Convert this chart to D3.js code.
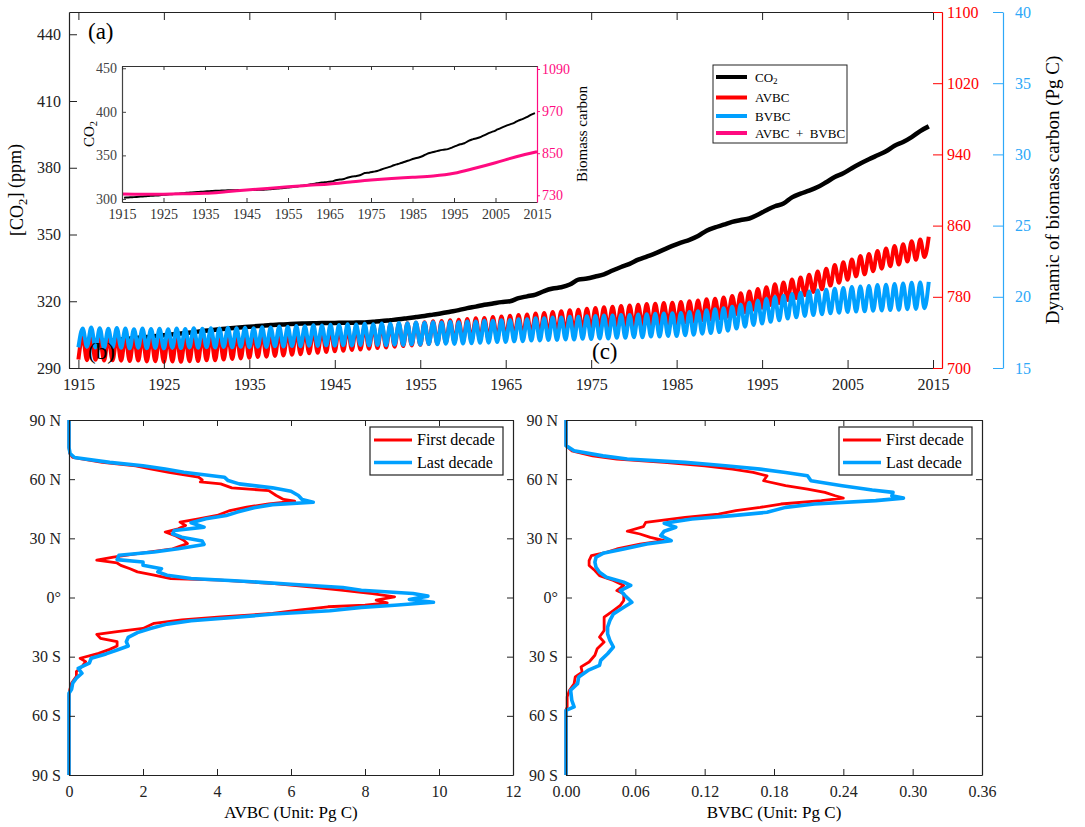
<!DOCTYPE html>
<html>
<head>
<meta charset="utf-8">
<title>CO2 and vegetation biomass carbon</title>
<script src="https://cdn.jsdelivr.net/npm/d3@7"></script>
<style>
  body { margin: 0; background: #fff; }
  svg text { font-family: 'Liberation Serif', 'DejaVu Serif', 'Times New Roman', serif; }
</style>
</head>
<body>
<svg id="fig" width="1085" height="827"></svg>
<script>
// ---------- panel (a) data, one value per year 1915..2014 ----------
const years = d3.range(1915, 2015);
const yearTicks = [1915, 1925, 1935, 1945, 1955, 1965, 1975, 1985, 1995, 2005, 2015];
const co2Ticks = [290, 320, 350, 380, 410, 440];
const avbcTicks = [700, 780, 860, 940, 1020, 1100];
const bvbcTicks = [15, 20, 25, 30, 35, 40];

const co2 = [
  301.4, 301.7, 302.0, 302.3, 302.7, 303.0, 303.4, 303.8, 304.1, 304.5,
  304.9, 305.3, 305.7, 306.1, 306.6, 307.0, 307.4, 307.8, 308.1, 308.4,
  308.7, 309.0, 309.3, 309.5, 309.7, 309.9, 310.0, 310.1, 310.2, 310.2,
  310.3, 310.3, 310.4, 310.5, 310.8, 311.1, 311.5, 311.9, 312.4, 312.9,
  313.4, 314.0, 314.6, 315.3, 316.0, 316.9, 317.6, 318.4, 319.0, 319.6,
  320.0, 321.4, 322.2, 323.0, 324.6, 325.7, 326.3, 327.5, 329.7, 330.2,
  331.1, 332.1, 333.8, 335.4, 336.8, 338.7, 340.1, 341.5, 343.2, 344.9,
  346.4, 347.6, 349.3, 351.7, 353.2, 354.4, 355.7, 356.5, 357.2, 358.9,
  360.9, 362.7, 363.9, 366.7, 368.4, 369.7, 371.3, 373.5, 375.8, 377.5,
  379.8, 381.9, 383.8, 385.6, 387.4, 389.9, 391.6, 393.8, 396.5, 398.6
];

// AVBC seasonal cycle: yearly high and low (Pg C)
const avbcPeak = [
  735.5, 735.0, 735.6, 734.8, 735.2, 735.0, 734.6, 735.1, 734.4, 734.9,
  734.2, 734.8, 734.5, 735.3, 735.6, 736.2, 736.0, 736.9, 737.4, 737.9,
  738.5, 739.2, 739.6, 740.3, 740.8, 741.5, 742.0, 742.9, 743.4, 744.3,
  745.0, 745.4, 746.3, 746.8, 747.6, 748.2, 748.7, 749.6, 750.2, 750.9,
  751.5, 752.4, 752.8, 753.7, 754.3, 755.0, 755.9, 756.3, 757.2, 757.8,
  758.6, 759.5, 760.1, 761.2, 761.9, 763.0, 763.8, 764.9, 765.5, 766.7,
  767.4, 768.3, 768.8, 769.7, 770.2, 771.0, 771.8, 772.1, 773.0, 773.3,
  774.2, 775.1, 775.8, 777.2, 777.9, 779.3, 781.0, 784.1, 786.0, 788.9,
  790.8, 794.0, 796.1, 799.5, 801.6, 804.8, 808.5, 811.4, 815.6, 818.7,
  822.0, 825.8, 828.0, 831.6, 834.4, 837.2, 839.1, 842.4, 844.3, 847.5
];
const avbcTrough = [
  709.5, 708.8, 709.2, 708.4, 708.6, 708.1, 707.8, 708.3, 707.4, 707.6,
  706.8, 707.3, 706.9, 707.6, 707.9, 708.6, 708.7, 709.5, 710.1, 710.8,
  711.4, 712.3, 712.7, 713.6, 714.1, 714.9, 715.5, 716.5, 717.0, 718.0,
  718.8, 719.3, 720.3, 720.8, 721.7, 722.4, 723.0, 723.9, 724.6, 725.3,
  726.0, 727.0, 727.4, 728.4, 729.0, 729.8, 730.7, 731.2, 732.1, 732.8,
  733.7, 734.6, 735.3, 736.4, 737.2, 738.3, 739.2, 740.3, 741.0, 742.2,
  743.0, 743.9, 744.5, 745.4, 746.0, 746.8, 747.7, 748.1, 749.0, 749.4,
  750.4, 751.4, 752.1, 753.6, 754.4, 755.8, 757.6, 760.7, 762.7, 765.6,
  767.6, 770.8, 773.0, 776.4, 778.6, 781.8, 785.5, 788.4, 792.6, 795.8,
  799.2, 803.0, 805.2, 808.8, 811.6, 814.4, 816.3, 819.6, 821.5, 824.6
];

// BVBC seasonal cycle: yearly high and low (Pg C)
const bvbcPeak = [
  17.78, 17.84, 17.80, 17.76, 17.81, 17.77, 17.73, 17.78, 17.74, 17.76,
  17.72, 17.77, 17.74, 17.79, 17.76, 17.80, 17.77, 17.82, 17.79, 17.83,
  17.80, 17.86, 17.84, 17.91, 17.90, 17.95, 17.94, 18.00, 17.98, 18.04,
  18.02, 18.07, 18.05, 18.10, 18.08, 18.12, 18.11, 18.16, 18.14, 18.19,
  18.17, 18.21, 18.19, 18.24, 18.22, 18.26, 18.27, 18.31, 18.32, 18.36,
  18.37, 18.42, 18.43, 18.49, 18.50, 18.55, 18.55, 18.60, 18.60, 18.64,
  18.65, 18.69, 18.68, 18.73, 18.72, 18.76, 18.77, 18.81, 18.82, 18.85,
  18.86, 18.93, 18.98, 19.06, 19.12, 19.20, 19.30, 19.45, 19.58, 19.73,
  19.85, 19.98, 20.07, 20.19, 20.28, 20.38, 20.44, 20.50, 20.57, 20.62,
  20.68, 20.73, 20.76, 20.82, 20.85, 20.90, 20.93, 20.98, 21.00, 21.05
];
const bvbcTrough = [
  16.45, 16.50, 16.44, 16.41, 16.46, 16.42, 16.38, 16.43, 16.39, 16.41,
  16.38, 16.43, 16.40, 16.45, 16.42, 16.46, 16.44, 16.48, 16.45, 16.49,
  16.46, 16.50, 16.48, 16.53, 16.51, 16.54, 16.53, 16.57, 16.55, 16.59,
  16.57, 16.60, 16.58, 16.62, 16.59, 16.61, 16.60, 16.64, 16.62, 16.66,
  16.64, 16.68, 16.66, 16.71, 16.69, 16.72, 16.73, 16.77, 16.78, 16.82,
  16.83, 16.87, 16.88, 16.93, 16.93, 16.97, 16.97, 17.01, 17.01, 17.05,
  17.04, 17.08, 17.07, 17.12, 17.12, 17.16, 17.16, 17.21, 17.21, 17.25,
  17.25, 17.30, 17.34, 17.41, 17.45, 17.52, 17.62, 17.77, 17.90, 18.02,
  18.12, 18.25, 18.35, 18.47, 18.56, 18.66, 18.72, 18.78, 18.84, 18.88,
  18.93, 18.96, 18.98, 19.02, 19.04, 19.07, 19.09, 19.13, 19.15, 19.20
];

// inset: AVBC + BVBC every 5 years
const insetYears = [1915, 1920, 1925, 1930, 1935, 1940, 1945, 1950, 1955, 1960, 1965,
                    1970, 1975, 1980, 1985, 1990, 1995, 2000, 2005, 2010, 2015];
const totalBC = [733.7, 733.0, 733.2, 734.2, 735.7, 740.0, 745.0, 749.5, 754.5, 758.5, 762.2,
                 768.0, 773.6, 778.0, 781.3, 785.0, 792.7, 807.0, 822.9, 840.0, 854.3];
const insetCo2Ticks = [300, 350, 400, 450];
const insetBCTicks = [730, 850, 970, 1090];

// ---------- panels (b) and (c): latitudinal profiles ----------
const latTicks = [-90, -60, -30, 0, 30, 60, 90];
const avbcTicksX = [0, 2, 4, 6, 8, 10, 12];
const bvbcTicksX = [0, 0.06, 0.12, 0.18, 0.24, 0.30, 0.36];

const latAvbcFirst = [90, 76, 73, 71, 68.5, 66.8, 65.2, 63.5, 61, 59.6, 58.6, 57.6, 55.6, 54.2, 51.7, 49.7, 48.8, 47.5, 45.8, 44.1,
  41.6, 39.9, 38.2, 36.5, 34.8, 33.2, 31.5, 29, 27.3, 24.7, 22.2, 20.5, 18.9, 17.5, 16.3, 14.6, 13, 11.3, 9.6, 8.8,
  7.1, 5.4, 3.7, 2, 0.3, -1.3, -2.7, -3.9, -4.7, -6.4, -8.1, -9.8, -11.4, -13.1, -15.7, -17.3, -18.7, -20.7, -22.4, -24.6,
  -26.3, -28.3, -30.8, -32.5, -35, -37.5, -40, -43.4, -46.8, -50, -90];
const avbcFirst = [0, 0, 0.02, 0.1, 0.9, 1.8, 2.2, 2.7, 3.5, 3.6, 3.55, 4.1, 4.4, 5.4, 5.6, 5.8, 6.1, 5.4, 4.8, 4.35,
  4.0, 3.5, 3.0, 3.15, 2.95, 2.6, 2.85, 3.1, 3.2, 2.8, 1.85, 1.2, 0.75, 1.3, 1.4, 1.65, 1.85, 2.3, 2.75, 4.1,
  5.55, 6.5, 7.35, 8.2, 8.8, 8.3, 8.6, 8.0, 7.0, 6.2, 5.5, 4.1, 3.05, 2.3, 2.0, 1.3, 0.75, 0.85, 1.3, 1.3,
  1.1, 0.8, 0.3, 0.45, 0.35, 0.2, 0.2, 0.07, 0.02, 0, 0];

const latAvbcLast = [90, 76, 73, 71, 68.5, 66.8, 65.2, 63.5, 61, 59.3, 57.6, 55.6, 53.9, 51.7, 49.7, 48.3, 47.1, 45.5, 43.3, 41.6,
  39.9, 37.9, 35.7, 34, 32.3, 30.6, 28.6, 26.9, 24.7, 23.1, 21.4, 19.2, 18, 16.3, 14.6, 13, 11.3, 9.6, 8.4, 6.7,
  5.1, 3.7, 2, 0.7, -1, -2.4, -3.9, -5, -6.7, -8.4, -10.1, -11.8, -13.5, -15.7, -17.8, -20.2, -22.4, -24.6, -26.6, -28.6,
  -30.8, -33.3, -35.9, -38.4, -40.9, -43.4, -46.5, -48.5, -90];
const avbcLast = [0, 0, 0.03, 0.15, 1.1, 2.0, 2.6, 3.1, 4.2, 4.3, 4.6, 5.5, 6.0, 6.2, 6.3, 6.6, 5.5, 5.0, 4.55, 4.25,
  3.7, 3.3, 3.65, 2.85, 2.8, 3.05, 3.6, 3.65, 2.95, 2.3, 1.35, 1.3, 2.0, 2.0, 2.5, 2.4, 2.65, 3.3, 4.6, 6.0,
  7.4, 7.9, 9.3, 9.7, 9.2, 9.85, 8.8, 7.9, 7.05, 5.55, 4.45, 3.3, 2.65, 2.2, 1.85, 1.6, 1.55, 1.6, 1.3, 1.0,
  0.6, 0.55, 0.25, 0.35, 0.2, 0.1, 0.07, 0, 0];

const latBvbcFirst = [90, 77, 74.4, 71.8, 70.2, 68.5, 66.8, 65.1, 63.4, 61.7, 59.2, 56.7, 55, 53.3, 51.6, 50.4, 49.1, 47.4, 45.7, 44,
  42.3, 40.6, 38.1, 35.9, 33.6, 32.2, 30.5, 28.8, 27.1, 24.6, 22.9, 21.2, 18.7, 16.2, 13.7, 11.1, 8.6, 6.1, 3.5, 1.9,
  -1.5, -4, -6.6, -10, -13.3, -16.7, -20, -22.6, -26, -29.3, -32.7, -35.2, -37.8, -40.3, -43.7, -47, -50.4, -55.5, -57, -90];
const bvbcFirst = [0, 0, 0.005, 0.023, 0.044, 0.085, 0.12, 0.144, 0.162, 0.174, 0.171, 0.19, 0.209, 0.224, 0.233, 0.24, 0.221, 0.186, 0.168, 0.147,
  0.132, 0.103, 0.069, 0.067, 0.053, 0.064, 0.073, 0.085, 0.064, 0.044, 0.035, 0.022, 0.02, 0.02, 0.025, 0.029, 0.041, 0.05, 0.044, 0.05,
  0.05, 0.047, 0.041, 0.033, 0.033, 0.033, 0.029, 0.033, 0.027, 0.025, 0.02, 0.013, 0.014, 0.008, 0.007, 0.003, 0.001, 0.001, 0, 0];

const latBvbcLast = [90, 77, 74.4, 71.8, 70.2, 68.5, 66.8, 65.1, 63.4, 61.7, 59.2, 56.7, 54.5, 53.3, 51.6, 50.4, 49.1, 47.4, 45.7, 43.2,
  41.5, 39.8, 37.6, 35.6, 33.6, 31.4, 28.8, 27.1, 24.6, 22.4, 20.4, 17.9, 15.3, 12.8, 10.3, 7.8, 6.1, 3.5, 1, -2.4,
  -4.9, -8.3, -11.6, -15, -18.4, -21.8, -25.1, -28.5, -31.9, -34.4, -37, -40.3, -43.7, -47, -52.1, -55.5, -57.2, -90];
const bvbcLast = [0, 0, 0.007, 0.032, 0.053, 0.103, 0.138, 0.168, 0.19, 0.209, 0.212, 0.239, 0.265, 0.283, 0.282, 0.292, 0.268, 0.215, 0.19, 0.174,
  0.144, 0.109, 0.085, 0.095, 0.085, 0.082, 0.091, 0.07, 0.05, 0.032, 0.026, 0.025, 0.026, 0.029, 0.035, 0.05, 0.056, 0.047, 0.051, 0.057,
  0.05, 0.041, 0.038, 0.036, 0.036, 0.038, 0.041, 0.036, 0.03, 0.029, 0.019, 0.011, 0.01, 0.004, 0.005, 0.007, 0, 0];

// ---------- drawing ----------
const RED = "#ff0000", BLUE = "#00a0ff", PINK = "#ff0a80";
const svg = d3.select("#fig");

function styleAxis(g, color, size) {
  g.attr("font-family", null).attr("font-size", null);
  g.selectAll("text").attr("fill", color).style("font-size", size + "px");
  g.selectAll(".tick line").attr("stroke", color);
  g.select(".domain").attr("stroke", color).attr("stroke-width", 1.2);
}

function addSub(text, base, sub, after) {
  text.append("tspan").text(base);
  text.append("tspan").text(sub).attr("dy", "0.3em").style("font-size", "0.7em");
  if (after) text.append("tspan").text(after).attr("dy", "-0.3em");
}

// panel (a)
const A = { l: 69, r: 942, t: 12, b: 368 };
const xA = d3.scaleLinear().domain([1913.9, 2016.05]).range([A.l, A.r]);
const yCO2 = d3.scaleLinear().domain([290, 450]).range([A.b, A.t]);
const yAV = d3.scaleLinear().domain([700, 1100]).range([A.b, A.t]);
const yBV = d3.scaleLinear().domain([15, 40]).range([A.b, A.t]);

const gA = svg.append("g");

gA.append("path").datum(co2)
  .attr("d", d3.line().x((d, i) => xA(years[i] + 0.5)).y(d => yCO2(d)).curve(d3.curveMonotoneX))
  .attr("fill", "none").attr("stroke", "#000").attr("stroke-width", 4.5);

const cycle = (lo, hi) => years.flatMap((yr, i) => [[yr, lo[i]], [yr + 0.5, hi[i]]]);

gA.append("path").datum(cycle(avbcTrough, avbcPeak))
  .attr("d", d3.line().x(d => xA(d[0])).y(d => yAV(d[1])).curve(d3.curveMonotoneX))
  .attr("fill", "none").attr("stroke", RED).attr("stroke-width", 4);

gA.append("path").datum(cycle(bvbcTrough, bvbcPeak))
  .attr("d", d3.line().x(d => xA(d[0])).y(d => yBV(d[1])).curve(d3.curveMonotoneX))
  .attr("fill", "none").attr("stroke", BLUE).attr("stroke-width", 4);

gA.append("g").attr("transform", `translate(${A.l},0)`)
  .call(d3.axisLeft(yCO2).tickValues(co2Ticks).tickSizeInner(-8).tickSizeOuter(0).tickPadding(8))
  .call(g => styleAxis(g, "#222", 16));
gA.append("g").attr("transform", `translate(0,${A.b})`)
  .call(d3.axisBottom(xA).tickValues(yearTicks).tickFormat(d3.format("d")).tickSizeInner(-8).tickSizeOuter(0).tickPadding(11))
  .call(g => styleAxis(g, "#222", 16));
gA.append("g").attr("transform", `translate(0,${A.t})`)
  .call(d3.axisTop(xA).tickValues(yearTicks).tickFormat("").tickSizeInner(-8).tickSizeOuter(0))
  .call(g => styleAxis(g, "#222", 16));
gA.append("g").attr("transform", `translate(${A.r},0)`)
  .call(d3.axisRight(yAV).tickValues(avbcTicks).tickFormat(d3.format("d")).tickSizeInner(-9).tickSizeOuter(0).tickPadding(5))
  .call(g => styleAxis(g, RED, 16));
gA.append("g").attr("transform", "translate(1003,0)")
  .call(d3.axisRight(yBV).tickValues(bvbcTicks).tickSizeInner(-10).tickSizeOuter(0).tickPadding(12))
  .call(g => styleAxis(g, "#2ea8f8", 16));

const yl = gA.append("text").attr("transform", "translate(23,190) rotate(-90)")
  .attr("text-anchor", "middle").style("font-size", "18px");
addSub(yl, "[CO", "2", "] (ppm)");
gA.append("text").attr("transform", "translate(1059,190) rotate(-90)")
  .attr("text-anchor", "middle").style("font-size", "19px").text("Dynamic of biomass carbon (Pg C)");

gA.append("text").attr("x", 88).attr("y", 39).style("font-size", "23px").text("(a)");
gA.append("text").attr("x", 88).attr("y", 359).style("font-size", "23px").text("(b)");
gA.append("text").attr("x", 592).attr("y", 359).style("font-size", "23px").text("(c)");

// legend (a)
const legA = gA.append("g");
legA.append("rect").attr("x", 713).attr("y", 65).attr("width", 134).attr("height", 78)
  .attr("fill", "#fff").attr("stroke", "#222").attr("stroke-width", 1);
const legItems = [
  { c: "#000", y: 77, label: ["CO", "2"] },
  { c: RED, y: 97.5, label: ["AVBC"] },
  { c: BLUE, y: 116, label: ["BVBC"] },
  { c: PINK, y: 133, label: ["AVBC \u00a0+\u00a0 BVBC"] }
];
legItems.forEach(it => {
  legA.append("line").attr("x1", 716).attr("x2", 747).attr("y1", it.y).attr("y2", it.y)
    .attr("stroke", it.c).attr("stroke-width", 4);
  const t = legA.append("text").attr("x", 755).attr("y", it.y + 4.5).style("font-size", "13px");
  if (it.label.length > 1) addSub(t, it.label[0], it.label[1]); else t.text(it.label[0]);
});

// inset
const I = { l: 122, r: 537, t: 66, b: 202 };
const xI = d3.scaleLinear().domain([1915, 2015]).range([I.l, I.r]);
const yI = d3.scaleLinear().domain([296.5, 452.6]).range([I.b, I.t]);
const yP = d3.scaleLinear().domain([710.9, 1098.5]).range([I.b, I.t]);
const gI = svg.append("g");

gI.append("path").datum(co2)
  .attr("d", d3.line().x((d, i) => xI(years[i] + 0.5)).y(d => yI(d)).curve(d3.curveMonotoneX))
  .attr("fill", "none").attr("stroke", "#000").attr("stroke-width", 2);
gI.append("path").datum(totalBC)
  .attr("d", d3.line().x((d, i) => xI(insetYears[i])).y(d => yP(d)).curve(d3.curveMonotoneX))
  .attr("fill", "none").attr("stroke", PINK).attr("stroke-width", 3);

gI.append("g").attr("transform", `translate(${I.l},0)`)
  .call(d3.axisLeft(yI).tickValues(insetCo2Ticks).tickSizeInner(-4).tickSizeOuter(0).tickPadding(5))
  .call(g => styleAxis(g, "#444", 14));
gI.append("g").attr("transform", `translate(0,${I.b})`)
  .call(d3.axisBottom(xI).tickValues(yearTicks).tickFormat(d3.format("d")).tickSizeInner(-4).tickSizeOuter(0).tickPadding(7))
  .call(g => styleAxis(g, "#333", 14));
gI.append("g").attr("transform", `translate(0,${I.t})`)
  .call(d3.axisTop(xI).tickValues(yearTicks).tickFormat("").tickSizeInner(-4).tickSizeOuter(0))
  .call(g => styleAxis(g, "#333", 14));
gI.append("g").attr("transform", `translate(${I.r},0)`)
  .call(d3.axisRight(yP).tickValues(insetBCTicks).tickFormat(d3.format("d")).tickSizeInner(3).tickSizeOuter(0).tickPadding(2))
  .call(g => styleAxis(g, PINK, 14));

const il = gI.append("text").attr("transform", "translate(94,134) rotate(-90)")
  .attr("text-anchor", "middle").style("font-size", "15px");
addSub(il, "CO", "2");
gI.append("text").attr("transform", "translate(587,134) rotate(-90)")
  .attr("text-anchor", "middle").style("font-size", "15px").text("Biomass carbon");

// panels (b) and (c)
const latFmt = v => v > 0 ? v + " N" : v < 0 ? (-v) + " S" : "0\u00b0";
const yLat = d3.scaleLinear().domain([-90, 90]).range([775, 420]);

function profile(box, domain, ticks, fmt, series, title) {
  const x = d3.scaleLinear().domain(domain).range([box.l, box.r]);
  const g = svg.append("g");
  series.forEach(s => {
    g.append("path").datum(d3.zip(s.lat, s.val))
      .attr("d", d3.line().x(d => x(d[1])).y(d => yLat(d[0])))
      .attr("fill", "none").attr("stroke", s.c).attr("stroke-width", s.w).attr("stroke-linejoin", "round");
  });
  g.append("g").attr("transform", `translate(${box.l},0)`)
    .call(d3.axisLeft(yLat).tickValues(latTicks).tickFormat(latFmt).tickSizeInner(-6).tickSizeOuter(0).tickPadding(8))
    .call(a => styleAxis(a, "#222", 16));
  g.append("g").attr("transform", `translate(${box.r},0)`)
    .call(d3.axisRight(yLat).tickValues(latTicks).tickFormat("").tickSizeInner(-6).tickSizeOuter(0))
    .call(a => styleAxis(a, "#222", 16));
  g.append("g").attr("transform", "translate(0,775)")
    .call(d3.axisBottom(x).tickValues(ticks).tickFormat(fmt).tickSizeInner(-6).tickSizeOuter(0).tickPadding(11))
    .call(a => styleAxis(a, "#222", 16));
  g.append("g").attr("transform", "translate(0,420)")
    .call(d3.axisTop(x).tickValues(ticks).tickFormat("").tickSizeInner(-6).tickSizeOuter(0))
    .call(a => styleAxis(a, "#222", 16));
  g.append("text").attr("x", (box.l + box.r) / 2).attr("y", 818).attr("text-anchor", "middle")
    .style("font-size", "17px").text(title);

  const lx = box.r - 10 - 133;
  const lg = g.append("g");
  lg.append("rect").attr("x", lx).attr("y", 427).attr("width", 133).attr("height", 48)
    .attr("fill", "#fff").attr("stroke", "#222").attr("stroke-width", 1.2);
  series.forEach((s, i) => {
    const yy = 440 + i * 22.5;
    lg.append("line").attr("x1", lx + 4).attr("x2", lx + 42).attr("y1", yy).attr("y2", yy)
      .attr("stroke", s.c).attr("stroke-width", s.w);
    lg.append("text").attr("x", lx + 47).attr("y", yy + 5).style("font-size", "16px").text(s.name);
  });
}

profile({ l: 69, r: 513 }, [0, 12], avbcTicksX, d3.format("d"), [
  { lat: latAvbcFirst, val: avbcFirst, c: RED, w: 2.8, name: "First decade" },
  { lat: latAvbcLast, val: avbcLast, c: BLUE, w: 3.6, name: "Last decade" }
], "AVBC (Unit: Pg C)");

profile({ l: 566, r: 982 }, [0, 0.36], bvbcTicksX, d3.format(".2f"), [
  { lat: latBvbcFirst, val: bvbcFirst, c: RED, w: 2.8, name: "First decade" },
  { lat: latBvbcLast, val: bvbcLast, c: BLUE, w: 3.6, name: "Last decade" }
], "BVBC (Unit: Pg C)");
</script>
</body>
</html>
